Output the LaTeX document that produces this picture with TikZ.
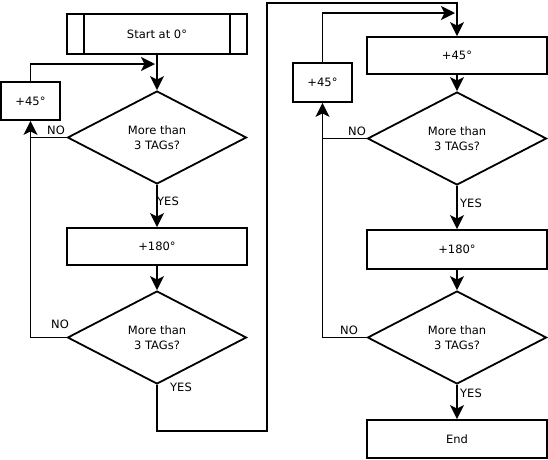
\documentclass[tikz,border=0pt]{standalone}
\usepackage{fontspec}
\setmainfont{DejaVu Sans}
\usetikzlibrary{shapes.geometric,arrows.meta}
\begin{document}
\begin{tikzpicture}[x=1pt,y=-1pt,
  every node/.style={font=\fontsize{11.5}{15}\selectfont},
  box/.style={draw,line width=1.8pt,inner sep=0pt,align=center},
  dec/.style={draw,diamond,aspect=2,line width=1.8pt,inner sep=0pt,minimum width=179pt,minimum height=93pt,align=center},
  arr/.style={line width=1.8pt,-{Stealth[length=14pt,width=14pt,inset=3.5pt]}},
  ln/.style={line width=1.8pt},
  lbl/.style={inner sep=0pt}]
\useasboundingbox (0,0) rectangle (548,459);
% left column
\node[box,minimum width=180pt,minimum height=40pt] (start) at (157,34) {Start at 0°};
\draw[ln] ([xshift=18pt]start.north west) -- ([xshift=18pt]start.south west);
\draw[ln] ([xshift=-18pt]start.north east) -- ([xshift=-18pt]start.south east);
\node[dec] (d1) at (157,137.5) {More than\\3 TAGs?};
\node[box,minimum width=59pt,minimum height=38pt] (l45) at (30.5,101) {+45°};
\node[box,minimum width=180pt,minimum height=37pt] (l180) at (157,246.5) {+180°};
\node[dec] (d2) at (157,337.5) {More than\\3 TAGs?};
\coordinate (j1) at (155,64);
\coordinate (t1) at (267,431);
\coordinate (t2) at (267,3);
% right column
\node[box,minimum width=180pt,minimum height=37pt] (r45) at (457,55.5) {+45°};
\node[dec] (d3) at (457,138.5) {More than\\3 TAGs?};
\node[box,minimum width=59pt,minimum height=39pt] (rs45) at (322.5,82.5) {+45°};
\node[box,minimum width=180pt,minimum height=39pt] (r180) at (457,249.5) {+180°};
\node[dec] (d4) at (457,337.5) {More than\\3 TAGs?};
\node[box,minimum width=180pt,minimum height=38pt] (end) at (457,439) {End};
\coordinate (j2) at (455,13);
% connectors left
\draw[arr] (start.south) -- (d1.north);
\draw[arr] (l45.north) |- (j1);
\draw[ln] (d1.west) -- (d1.west -| l45.south);
\draw[arr] (d2.west) -| (l45.south);
\draw[arr] (d1.south) -- (l180.north);
\draw[arr] (l180.south) -- (d2.north);
\draw[arr] (d2.south) |- (t1) -- (t2) -| (r45.north);
% connectors right
\draw[arr] (r45.south) -- (d3.north);
\draw[arr] (rs45.north) |- (j2);
\draw[ln] (d3.west) -- (d3.west -| rs45.south);
\draw[arr] (d4.west) -| (rs45.south);
\draw[arr] (d3.south) -- (r180.north);
\draw[arr] (r180.south) -- (d4.north);
\draw[arr] (d4.south) -- (end.north);
% labels
\node[lbl] (no1) at (56,130) {NO};
\node[lbl] (yes1) at (168,201) {YES};
\node[lbl] (no2) at (60,324) {NO};
\node[lbl] (yes2) at (181,387) {YES};
\node[lbl] (no3) at (357,131) {NO};
\node[lbl] (yes3) at (471,203) {YES};
\node[lbl] (no4) at (349,330) {NO};
\node[lbl] (yes4) at (471,393) {YES};
\end{tikzpicture}
\end{document}
